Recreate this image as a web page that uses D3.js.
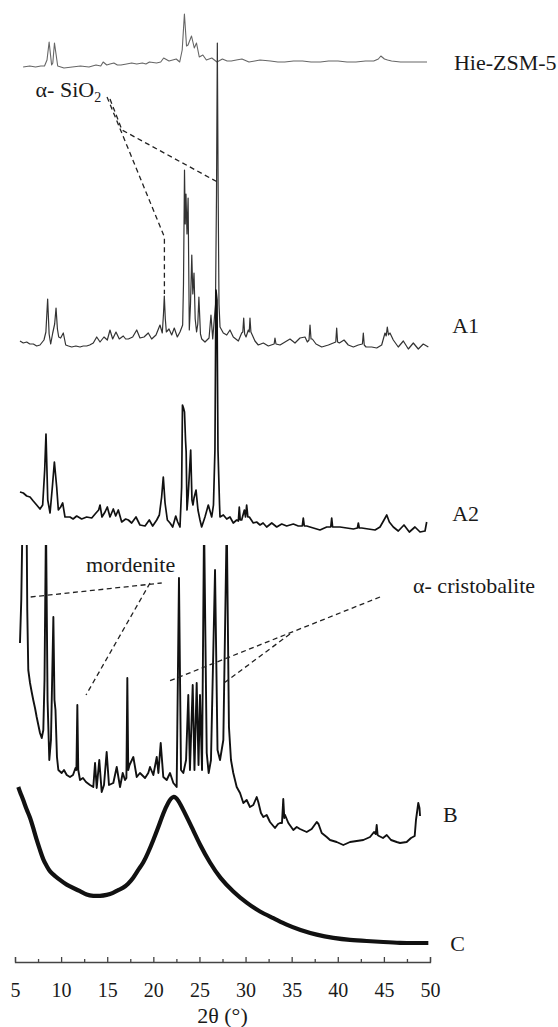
<!DOCTYPE html>
<html>
<head>
<meta charset="utf-8">
<script src="https://cdnjs.cloudflare.com/ajax/libs/d3/7.8.5/d3.min.js"></script>
<style>
  body { margin: 0; background: #fff; }
  svg text { font-family: 'Liberation Serif', 'Times New Roman', serif; fill: #1a1a1a; }
</style>
</head>
<body>
<div id="chart"></div>
<script>
'use strict';

// [2theta (deg), intensity above the pattern's own baseline (a.u.)]
var hieZSM5 = [
  [5.88,-1],[6.6,0],[7.23,-1],[7.8,0],[8.2,0],[8.47,6],[8.7,24],[8.97,1],[9.1,3],[9.28,23],[9.63,0],
  [10.31,-2],[11.2,-1],[12.1,0],[13.02,-1],[13.78,1],[14.3,0],[14.56,4],[14.95,1],[15.3,2],[15.72,3],
  [16.1,1],[16.49,1],[17.1,2],[17.65,3],[18.2,2],[18.81,3],[19.2,2],[19.58,4],[20.35,3],[20.8,4],
  [21.12,8],[21.7,5],[22.1,6],[22.48,7],[22.86,4],[23.13,16],[23.37,52],[23.6,20],[23.76,21],[24.14,30],
  [24.44,18],[24.68,23],[24.98,9],[25.37,11],[25.75,6],[26.34,8],[26.9,4],[27.49,7],[28.0,5],[28.45,5],
  [29.0,6],[29.61,7],[30.37,4],[31.0,5],[31.57,6],[32.7,5],[33.5,4],[34.25,4],[35.2,5],[36.18,5],
  [37.1,4],[38.11,4],[39.0,5],[40.03,5],[41.0,4],[41.97,4],[43.0,5],[43.9,5],[44.4,7],[44.67,10],
  [45.06,7],[45.4,6],[45.83,5],[46.8,4],[47.76,4],[48.7,4],[49.68,4]
];

var sampleA1 = [
  [5.54,3],[5.9,1],[6.27,2],[6.6,0],[6.99,0],[7.35,-2],[7.71,-1],[8.14,4],[8.35,12],[8.54,45],[8.7,10],
  [8.87,0],[9.09,11],[9.3,20],[9.45,36],[9.6,15],[9.74,7],[9.95,6],[10.24,11],[10.5,-1],[10.8,-2],
  [11.15,-3],[11.6,-2],[12.05,-3],[12.4,-2],[12.77,-2],[13.1,-1],[13.49,1],[13.86,7],[14.22,2],[14.65,7],
  [15.01,4],[15.3,14],[15.59,5],[15.95,12],[16.31,5],[16.74,8],[17.0,5],[17.29,5],[17.76,7],[18.2,14],
  [18.55,6],[18.99,7],[19.45,11],[19.82,5],[20.29,9],[20.72,19],[20.97,11],[21.1,30],[21.19,48],[21.3,25],
  [21.41,12],[21.7,15],[21.99,9],[22.27,16],[22.6,7],[22.89,12],[23.18,19],[23.27,60],[23.38,174],[23.46,120],
  [23.54,150],[23.65,110],[23.77,146],[23.9,14],[24.03,40],[24.17,89],[24.28,50],[24.41,71],[24.54,25],
  [24.69,12],[24.82,20],[24.94,47],[25.11,10],[25.25,5],[25.6,2],[26.04,6],[26.25,29],[26.44,5],[26.74,40],
  [26.85,150],[26.94,301],[27.03,150],[27.12,40],[27.23,17],[27.59,11],[27.96,9],[28.31,14],[28.67,7],
  [29.22,3],[29.58,11],[29.7,12],[29.8,26],[29.9,10],[30.05,7],[30.3,14],[30.4,12],[30.48,26],[30.58,12],
  [30.73,9],[31.02,3],[31.38,-1],[31.93,1],[32.47,-2],[33.1,0],[33.19,6],[33.3,0],[33.74,-1],[34.28,2],
  [34.82,5],[35.36,1],[35.9,6],[36.45,7],[36.7,2],[36.88,4],[36.99,19],[37.1,5],[37.24,5],[37.64,0],
  [38.26,-3],[38.98,-1],[39.52,1],[39.78,2],[39.88,16],[39.98,2],[40.17,1],[40.68,4],[41.14,-1],[41.69,-3],
  [42.23,-1],[42.67,0],[42.77,11],[42.87,-1],[43.06,-3],[43.68,-3],[44.22,-4],[44.76,-1],[45.12,11],
  [45.25,8],[45.37,17],[45.5,9],[45.66,11],[46.02,4],[46.56,-3],[47.11,3],[47.65,-5],[48.19,1],[48.73,-5],
  [49.27,0],[49.82,-3]
];

var sampleA2 = [
  [5.54,33],[5.9,32],[6.27,29],[6.63,28],[6.98,24],[7.35,20],[7.71,16],[8.0,20],[8.22,55],[8.36,91],
  [8.55,25],[8.8,12],[9.05,38],[9.27,63],[9.52,38],[9.7,15],[9.95,18],[10.17,22],[10.42,8],[10.96,8],
  [11.3,6],[11.69,9],[12.23,6],[12.77,8],[13.32,7],[13.78,12],[14.07,15],[14.22,20],[14.43,8],[14.76,13],
  [15.01,18],[15.3,8],[15.66,16],[15.92,9],[16.2,15],[16.57,3],[17.0,6],[17.29,5],[17.65,2],[18.12,8],
  [18.55,0],[19.1,-1],[19.56,5],[19.93,-1],[20.37,5],[20.65,10],[20.9,28],[21.08,48],[21.27,22],[21.52,5],
  [21.81,2],[22.1,-2],[22.43,9],[22.64,3],[22.89,-2],[23.07,38],[23.16,120],[23.27,117],[23.38,113],
  [23.49,85],[23.56,73],[23.65,15],[23.78,30],[24.05,75],[24.19,25],[24.3,20],[24.41,27],[24.63,35],
  [24.84,15],[25.06,5],[25.24,-2],[25.6,8],[25.96,20],[26.33,8],[26.52,20],[26.68,75],[26.79,235],
  [26.9,225],[27.01,75],[27.18,20],[27.23,8],[27.59,10],[27.96,6],[28.31,8],[28.67,2],[29.04,5],[29.22,4],
  [29.32,18],[29.42,5],[29.58,5],[29.87,15],[30.0,8],[30.12,20],[30.25,8],[30.41,8],[30.84,2],[31.2,3],
  [31.57,0],[31.9,2],[32.29,-2],[32.84,2],[33.38,-2],[33.92,1],[34.46,-1],[35.18,1],[35.72,-1],[36.15,-1],
  [36.26,7],[36.37,-1],[36.63,-1],[37.35,-3],[38.07,-5],[38.8,-2],[39.24,-2],[39.34,7],[39.44,-2],[39.7,-2],
  [40.24,-2],[40.97,-3],[41.69,-4],[42.13,-3],[42.23,2],[42.33,-3],[42.6,-3],[43.31,-4],[44.04,-5],
  [44.58,-2],[45.01,5],[45.31,10],[45.59,3],[46.02,-2],[46.56,-6],[47.18,0],[47.76,-7],[48.37,-2],
  [48.92,-7],[49.46,-6],[49.64,3]
];

var sampleB = [
  [5.54,197],[5.68,240],[5.83,330],[6.05,380],[6.25,330],[6.33,230],[6.44,170],[6.63,157],[6.81,148],
  [6.98,140],[7.17,132],[7.35,123],[7.53,115],[7.71,107],[7.9,102],[8.07,110],[8.2,160],[8.36,320],
  [8.53,140],[8.72,80],[8.9,100],[9.16,223],[9.28,140],[9.39,130],[9.55,83],[9.7,70],[10.06,67],
  [10.31,70],[10.61,65],[10.96,63],[11.29,65],[11.56,72],[11.66,70],[11.76,135],[11.86,70],[12.05,60],
  [12.37,62],[12.7,58],[13.13,55],[13.49,53],[13.68,77],[13.86,52],[14.14,80],[14.4,48],[14.65,55],
  [14.94,88],[15.19,55],[15.66,57],[16.03,73],[16.39,53],[16.68,67],[16.93,60],[17.08,62],[17.18,162],
  [17.28,70],[17.42,75],[17.83,83],[18.2,63],[18.55,67],[19.1,62],[19.45,67],[19.64,73],[20.0,65],
  [20.37,83],[20.55,67],[20.8,97],[21.08,63],[21.45,60],[21.81,67],[22.17,57],[22.53,53],[22.78,262],
  [23.0,70],[23.25,67],[23.55,80],[23.79,145],[23.97,70],[24.27,155],[24.46,70],[24.7,157],[24.9,75],
  [25.06,145],[25.28,70],[25.5,320],[25.79,87],[26.0,67],[26.25,80],[26.69,270],[26.96,90],[27.23,80],
  [27.59,100],[27.96,320],[28.2,113],[28.42,80],[28.67,67],[29.04,53],[29.4,47],[29.76,37],[30.12,40],
  [30.48,33],[30.84,35],[31.21,43],[31.38,38],[31.67,27],[31.93,23],[32.29,25],[32.65,18],[33.01,14],
  [33.19,12],[33.52,16],[33.74,17],[33.95,17],[34.09,41],[34.2,22],[34.28,25],[34.64,17],[35.18,10],
  [35.55,13],[35.9,11],[36.63,8],[37.17,11],[37.72,18],[37.91,16],[38.26,7],[38.8,3],[39.16,0],[39.88,-2],
  [40.6,-5],[41.33,-2],[42.05,-1],[42.77,0],[43.5,3],[43.93,8],[44.12,6],[44.22,15],[44.32,5],[44.47,4],
  [44.9,2],[45.31,5],[45.77,0],[46.39,-2],[46.75,-3],[47.47,-2],[47.94,2],[48.34,4],[48.48,20],[48.73,37],
  [48.86,32],[48.92,24]
];

var sampleC = [
  [5.36,175],[5.54,170],[5.9,162],[6.27,152],[6.63,145],[6.98,134],[7.35,122],[7.71,112],[8.07,102],
  [8.44,96],[8.8,90],[9.34,86],[9.88,82],[10.61,77],[11.32,74],[12.05,71],[12.77,67],[13.49,66],[14.22,66],
  [14.94,67],[15.66,69],[16.17,72],[16.74,74],[17.25,78],[17.83,84],[18.34,92],[18.91,99],[19.42,109],
  [20.0,122],[20.51,134],[21.08,149],[21.62,160],[22.17,167],[22.71,162],[23.25,152],[24.16,135],
  [25.06,117],[26.14,99],[27.23,84],[28.67,70],[30.12,59],[31.57,50],[33.01,44],[34.46,37],[35.9,32],
  [37.72,27],[39.52,24],[41.33,22],[43.14,21],[44.94,20],[46.75,19],[48.56,19],[49.82,19]
];

var patternNames = ['Hie-ZSM-5', 'A1', 'A2', 'B', 'C'];
var patternOffsets = [896, 618, 437, 122, 0];
// where each name sits, [2theta, stacked intensity]
var patternNameAt = [[52.6, 892], [52.4, 629], [52.4, 441], [51.4, 140], [52.2, 11]];
// scan B was cut off at this stacked intensity
var bCutOff = 417;

var majorTicks = [5, 10, 15, 20, 25, 30, 35, 40, 45, 50];
var minorTicks = [7.5, 12.5, 17.5, 22.5, 27.5, 32.5, 37.5, 42.5, 47.5];

var phaseNotes = [
  { text: 'mordenite', at: [12.7, 390] },
  { text: 'α- cristobalite', at: [48.16, 369] },
  { text: 'α- SiO', sub: '2', at: [7.23, 865] }
];
var leaderLines = [
  [[6.7, 365], [20.91, 379]],
  [[19.64, 379], [12.7, 267]],
  [[44.58, 365], [21.73, 281]],
  [[34.82, 328], [27.52, 278]],
  [[14.98, 865], [21.2, 725], [21.2, 668]],
  [[15.3, 863], [16.6, 832], [26.96, 780]]
];

(function () {
  var width = 558,
      height = 1027;

  var series = [hieZSM5, sampleA1, sampleA2, sampleB, sampleC];
  var strokes = ['#666', '#333', '#111', '#111', '#111'];
  var widths = [1.1, 1.2, 1.7, 1.9, 4.2];

  var x = d3.scaleLinear().domain([5, 50]).range([15, 430]);
  var y = d3.scaleLinear().domain([0, 962]).range([962, 0]);

  var svg = d3.select('#chart').append('svg')
      .attr('width', width)
      .attr('height', height);

  svg.append('clipPath')
      .attr('id', 'cut-b')
    .append('rect')
      .attr('x', 0)
      .attr('y', y(bCutOff))
      .attr('width', width)
      .attr('height', height - y(bCutOff));

  series.forEach(function (data, i) {
    var line = d3.line()
        .x(function (d) { return x(d[0]); })
        .y(function (d) { return y(patternOffsets[i] + d[1]); })
        .curve(i === 4 ? d3.curveBasis : d3.curveLinear);

    svg.append('path')
        .datum(data)
        .attr('d', line)
        .attr('fill', 'none')
        .attr('stroke', strokes[i])
        .attr('stroke-width', widths[i])
        .attr('stroke-linejoin', 'round')
        .attr('clip-path', i === 3 ? 'url(#cut-b)' : null);
  });

  svg.selectAll('.name')
      .data(patternNames)
    .enter().append('text')
      .attr('class', 'name')
      .attr('x', function (d, i) { return x(patternNameAt[i][0]); })
      .attr('y', function (d, i) { return y(patternNameAt[i][1]); })
      .style('font-size', '22px')
      .text(function (d) { return d; });

  var dashed = d3.line()
      .x(function (d) { return x(d[0]); })
      .y(function (d) { return y(d[1]); });

  svg.selectAll('.leader')
      .data(leaderLines)
    .enter().append('path')
      .attr('class', 'leader')
      .attr('d', dashed)
      .attr('fill', 'none')
      .attr('stroke', '#222')
      .attr('stroke-width', 1.3)
      .attr('stroke-dasharray', '5,3.5');

  var notes = svg.selectAll('.note')
      .data(phaseNotes)
    .enter().append('text')
      .attr('class', 'note')
      .attr('x', function (d) { return x(d.at[0]); })
      .attr('y', function (d) { return y(d.at[1]); })
      .style('font-size', '22px')
      .text(function (d) { return d.text; });

  notes.filter(function (d) { return d.sub; })
    .append('tspan')
      .attr('dy', 5)
      .style('font-size', '14px')
      .text(function (d) { return d.sub; });

  // axis, ticks pointing up into the plot
  var gx = svg.append('g')
      .attr('transform', 'translate(0,' + y(0) + ')')
      .call(d3.axisBottom(x)
        .tickValues(majorTicks)
        .tickSizeInner(-5)
        .tickSizeOuter(-5)
        .tickPadding(21)
        .tickFormat(d3.format('d')));

  gx.selectAll('text').style('font-size', '20px');
  gx.selectAll('line, path').attr('stroke', '#444').attr('stroke-width', 1.3);

  var gm = svg.append('g')
      .attr('transform', 'translate(0,' + y(0) + ')')
      .call(d3.axisBottom(x)
        .tickValues(minorTicks)
        .tickSize(-3)
        .tickFormat(''));

  gm.select('.domain').remove();
  gm.selectAll('line').attr('stroke', '#444').attr('stroke-width', 1.3);

  svg.append('text')
      .attr('x', x(27.5))
      .attr('y', y(0) + 61)
      .attr('text-anchor', 'middle')
      .style('font-size', '22px')
      .text('2θ (°)');
})();
</script>
</body>
</html>
